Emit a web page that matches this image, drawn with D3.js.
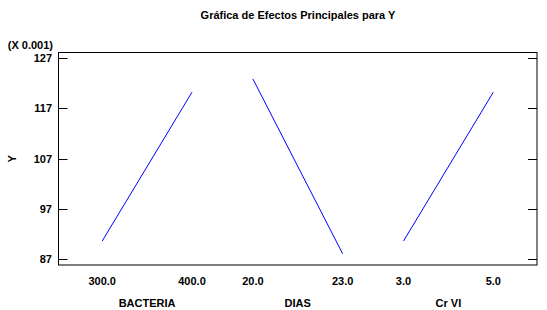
<!DOCTYPE html>
<html>
<head>
<meta charset="utf-8">
<script src="https://cdn.jsdelivr.net/npm/d3@7"></script>
<style>
body{margin:0;background:#fff;}
text{font-family:"Liberation Sans",Arial,sans-serif;fill:#000;}
</style>
</head>
<body>
<div id="chart"></div>
<script>
const factors = ["BACTERIA","DIAS","Cr VI"];
const lowLevels = [300.0, 20.0, 3.0];
const highLevels = [400.0, 23.0, 5.0];
const lowMeans = [90.64, 122.88, 90.64];
const highMeans = [120.23, 88.11, 120.23];
const yTicks = [87, 97, 107, 117, 127];

const W=547,H=310,M={top:52.5,right:10,bottom:45,left:58.5};
const svg=d3.select("#chart").append("svg").attr("width",W).attr("height",H);

const fx=d3.scaleBand().domain(factors).range([M.left,W-M.right]).paddingInner(0.404).paddingOuter(0.29);
const y=d3.scaleLinear().domain([85.88,128.12]).range([H-M.bottom,M.top]);

svg.append("text").attr("x",298).attr("y",19).attr("text-anchor","middle")
  .attr("font-size",11).attr("font-weight","bold").text("Gráfica de Efectos Principales para Y");

// frame
svg.append("rect").attr("x",M.left).attr("y",M.top).attr("width",W-M.right-M.left).attr("height",H-M.bottom-M.top)
  .attr("fill","none").attr("stroke","#000");

// y axis ticks, inward both sides
const gy=svg.append("g");
gy.selectAll("line.l").data(yTicks).join("line").attr("class","l")
  .attr("x1",M.left).attr("x2",M.left+9).attr("y1",d=>Math.round(y(d))+0.5).attr("y2",d=>Math.round(y(d))+0.5).attr("stroke","#000");
gy.selectAll("line.r").data(yTicks).join("line").attr("class","r")
  .attr("x1",W-M.right-9).attr("x2",W-M.right).attr("y1",d=>Math.round(y(d))+0.5).attr("y2",d=>Math.round(y(d))+0.5).attr("stroke","#000");
gy.selectAll("text").data(yTicks).join("text")
  .attr("x",52).attr("y",d=>y(d)+4).attr("text-anchor","end").attr("font-size",11).attr("font-weight","bold").text(d=>d);
svg.append("text").attr("x",53).attr("y",49).attr("text-anchor","end").attr("font-size",11).attr("font-weight","bold").text("(X 0.001)");
svg.append("text").attr("transform",`translate(16,${(M.top+H-M.bottom)/2}) rotate(-90)`).attr("text-anchor","middle")
  .attr("font-size",11).attr("font-weight","bold").text("Y");

// effect lines
factors.forEach((f,i)=>{
  const x=d3.scaleLinear().domain([lowLevels[i],highLevels[i]]).range([fx(f),fx(f)+fx.bandwidth()]);
  const pts=[[lowLevels[i],lowMeans[i]],[highLevels[i],highMeans[i]]];
  svg.append("path").datum(pts).attr("fill","none").attr("stroke","#0000ff").attr("stroke-width",1)
    .attr("d",d3.line().x(d=>x(d[0])).y(d=>y(d[1])));
  svg.selectAll(null).data(pts).join("text").attr("x",d=>x(d[0])).attr("y",284.5).attr("text-anchor","middle")
    .attr("font-size",11).attr("font-weight","bold").text(d=>d[0].toFixed(1));
  svg.append("text").attr("x",fx(f)+fx.bandwidth()/2).attr("y",307).attr("text-anchor","middle")
    .attr("font-size",11).attr("font-weight","bold").text(f);
});
</script>
</body>
</html>
